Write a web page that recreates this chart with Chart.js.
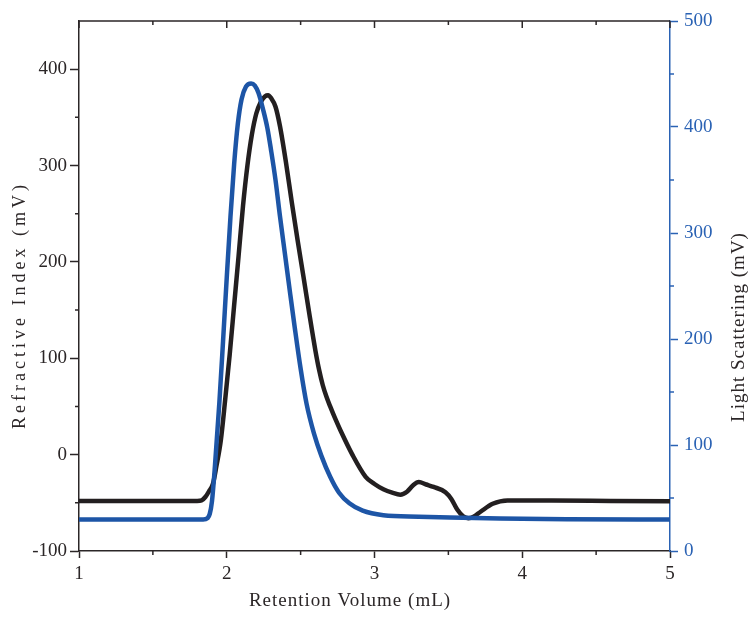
<!DOCTYPE html>
<html>
<head>
<meta charset="utf-8">
<script src="https://cdn.jsdelivr.net/npm/chart.js@4.4.1/dist/chart.umd.min.js"></script>
<style>
  html, body { margin: 0; padding: 0; background: #fff; }
  #wrap { width: 748px; height: 618px; }
</style>
</head>
<body>
<div id="wrap"><canvas id="chart" width="748" height="618"></canvas></div>
<script>
/*******************
 * DATA
 ******************/

// Refractive index trace (left axis, mV)
const riVolume = [1.00, 1.50, 1.80, 1.83, 1.855, 1.88, 1.907, 1.93, 1.96, 1.99, 2.02, 2.05, 2.08, 2.11, 2.14, 2.17, 2.20, 2.23, 2.26, 2.28, 2.30, 2.33, 2.36, 2.40, 2.44, 2.48, 2.52, 2.56, 2.60, 2.625, 2.65, 2.675, 2.70, 2.735, 2.77, 2.85, 2.94, 3.00, 3.06, 3.12, 3.175, 3.22, 3.26, 3.30, 3.35, 3.40, 3.48, 3.52, 3.56, 3.60, 3.635, 3.67, 3.72, 3.80, 3.90, 4.20, 4.60, 5.00];
const riSignal = [-48, -48, -48, -47.5, -44, -38, -30, -12, 15, 58, 104, 155, 206, 258, 300, 332, 354, 366, 372, 373, 370, 361, 341, 304, 262, 222, 184, 145, 108, 88, 72, 60, 50, 37, 25, 0, -23, -30.5, -36, -39.5, -41.5, -38.5, -32, -28.5, -31, -33.5, -39, -46, -57, -64, -66, -64.5, -59, -51, -47.5, -47.5, -48, -48.5];

// Light scattering trace (right axis, mV)
const lsVolume = [1.00, 1.50, 1.84, 1.87, 1.885, 1.90, 1.92, 1.95, 1.975, 2.00, 2.025, 2.05, 2.075, 2.10, 2.13, 2.165, 2.19, 2.215, 2.245, 2.275, 2.30, 2.33, 2.36, 2.395, 2.43, 2.46, 2.50, 2.54, 2.59, 2.64, 2.70, 2.76, 2.83, 2.92, 3.06, 3.30, 3.51, 3.85, 4.30, 5.00];
const lsSignal = [29.6, 29.6, 29.6, 31, 35, 47, 80, 140, 198, 258, 315, 365, 403, 426, 438, 441, 439, 432, 417, 399, 378, 350, 316, 279, 242, 211, 172, 139, 111, 90, 70, 55, 45, 38, 33.7, 32.3, 31.5, 30.6, 30, 29.6];

const xTicks = [1, 2, 3, 4, 5];
const leftTicks = [-100, 0, 100, 200, 300, 400];
const rightTicks = [0, 100, 200, 300, 400, 500];

const DARK = '#2b2627';
const BLUE = '#2a62b4';
const SERIF = '"Liberation Serif", "DejaVu Serif", serif';

/*******************
 * FRAME - top border, minor ticks and axis titles
 ******************/

function minorValues(ticks, min, max) {
    const step = ticks[1] - ticks[0];
    const out = [];
    for (let v = ticks[0] - step / 2; v < max; v += step) {
        if (v > min && v < max) out.push(v);
    }
    return out;
}

const frame = {
    id: 'frame',
    afterDraw(chart) {
        const ctx = chart.ctx;
        const a = chart.chartArea;
        const x = chart.scales.x;
        const yl = chart.scales.y;
        const yr = chart.scales.y1;
        ctx.save();
        ctx.lineWidth = 1.5;

        /* top border with inward ticks */
        ctx.strokeStyle = DARK;
        ctx.beginPath();
        ctx.moveTo(a.left, a.top);
        ctx.lineTo(a.right, a.top);
        for (const v of xTicks) {
            const px = x.getPixelForValue(v);
            ctx.moveTo(px, a.top);
            ctx.lineTo(px, a.top + 7);
        }
        for (const v of minorValues(xTicks, x.min, x.max)) {
            const px = x.getPixelForValue(v);
            ctx.moveTo(px, a.top);
            ctx.lineTo(px, a.top + 4);
            // bottom minor
            ctx.moveTo(px, a.bottom);
            ctx.lineTo(px, a.bottom + 4);
        }
        for (const v of minorValues(leftTicks, yl.min, yl.max)) {
            const py = yl.getPixelForValue(v);
            ctx.moveTo(a.left, py);
            ctx.lineTo(a.left - 4, py);
        }
        ctx.stroke();

        ctx.strokeStyle = BLUE;
        ctx.beginPath();
        for (const v of minorValues(rightTicks, yr.min, yr.max)) {
            const py = yr.getPixelForValue(v);
            ctx.moveTo(a.right, py);
            ctx.lineTo(a.right + 4, py);
        }
        ctx.stroke();

        /* axis titles */
        ctx.textAlign = 'center';
        ctx.textBaseline = 'middle';
        ctx.fillStyle = DARK;

        ctx.save();
        ctx.font = '19px ' + SERIF;
        ctx.letterSpacing = '1px';
        ctx.fillText('Retention Volume (mL)', 350, 601);
        ctx.restore();

        ctx.save();
        ctx.translate(20, 305);
        ctx.rotate(-Math.PI / 2);
        ctx.font = '18px ' + SERIF;
        ctx.letterSpacing = '4px';
        ctx.fillText('Refractive Index (mV)', 0, 0);
        ctx.restore();

        ctx.save();
        ctx.translate(739, 327);
        ctx.rotate(-Math.PI / 2);
        ctx.font = '19px ' + SERIF;
        ctx.letterSpacing = '1px';
        ctx.fillText('Light Scattering (mV)', 0, 0);
        ctx.restore();

        ctx.restore();
    }
};

/*******************
 * CHART
 ******************/

const tickFont = { family: SERIF, size: 19 };

new Chart(document.getElementById('chart'), {
    type: 'line',
    data: {
        datasets: [
            {
                label: 'Light Scattering',
                data: lsVolume.map((v, i) => ({ x: v, y: lsSignal[i] })),
                yAxisID: 'y1',
                borderColor: '#1d55a6',
                borderWidth: 4.5,
                pointRadius: 0,
                cubicInterpolationMode: 'monotone',
                order: 0,
            },
            {
                label: 'Refractive Index',
                data: riVolume.map((v, i) => ({ x: v, y: riSignal[i] })),
                yAxisID: 'y',
                borderColor: '#231f20',
                borderWidth: 4.5,
                pointRadius: 0,
                cubicInterpolationMode: 'monotone',
                order: 1,
            },
        ],
    },
    options: {
        responsive: false,
        animation: false,
        layout: { padding: { top: 21, left: 0, right: 0, bottom: 0 } },
        plugins: {
            legend: { display: false },
            tooltip: { enabled: false },
        },
        scales: {
            x: {
                type: 'linear',
                min: 1,
                max: 5,
                afterBuildTicks: (scale) => { scale.ticks = xTicks.map(v => ({ value: v })); },
                afterFit: (scale) => { scale.height = 67; },
                border: { color: DARK, width: 1.5 },
                grid: { drawOnChartArea: false, tickLength: 7, tickColor: DARK, tickWidth: 1.5 },
                ticks: { color: DARK, font: tickFont, padding: 5, maxRotation: 0 },
            },
            y: {
                position: 'left',
                min: -100,
                max: 450,
                afterBuildTicks: (scale) => { scale.ticks = leftTicks.map(v => ({ value: v })); },
                afterFit: (scale) => { scale.width = 79; },
                border: { color: DARK, width: 1.5 },
                grid: { drawOnChartArea: false, tickLength: 9, tickColor: DARK, tickWidth: 1.5 },
                ticks: { color: DARK, font: tickFont, padding: 3 },
            },
            y1: {
                position: 'right',
                min: 0,
                max: 500,
                afterBuildTicks: (scale) => { scale.ticks = rightTicks.map(v => ({ value: v })); },
                afterFit: (scale) => { scale.width = 78; },
                border: { color: BLUE, width: 1.5 },
                grid: { drawOnChartArea: false, tickLength: 8, tickColor: BLUE, tickWidth: 1.5 },
                ticks: { color: BLUE, font: tickFont, padding: 6 },
            },
        },
    },
    plugins: [frame],
});
</script>
</body>
</html>
